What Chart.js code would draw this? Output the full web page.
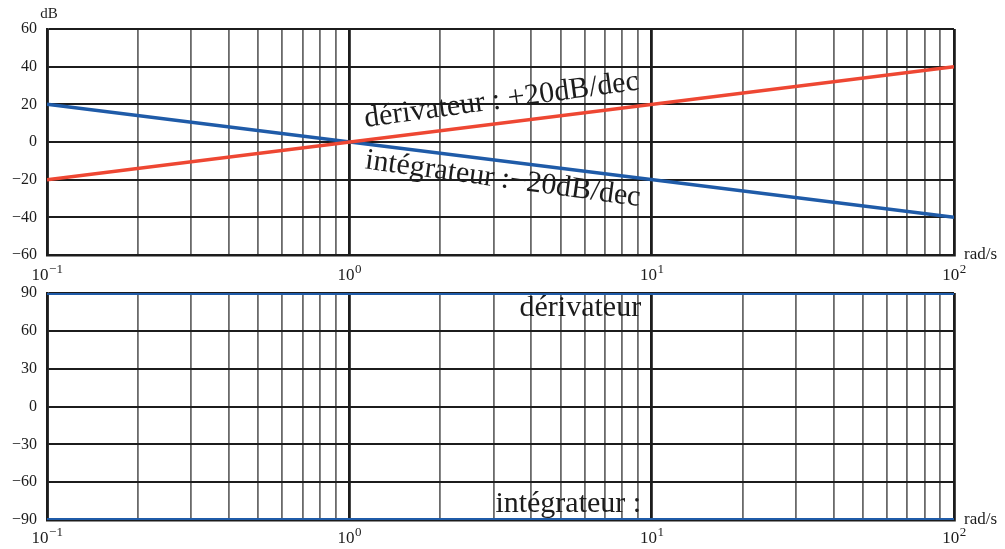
<!DOCTYPE html>
<html>
<head>
<meta charset="utf-8">
<script src="https://cdn.jsdelivr.net/npm/chart.js@4.4.0/dist/chart.umd.min.js"></script>
<style>
  html, body { margin: 0; padding: 0; background: #fff; }
  #wrap { position: relative; width: 1005px; height: 549px; }
  #wrap canvas { position: absolute; left: 0; }
  #gainCanvas { top: 0; width: 1005px; height: 285px; }
  #phaseCanvas { top: 285px; width: 1005px; height: 264px; }
</style>
</head>
<body>
<div id="wrap">
  <canvas id="gainCanvas" width="1005" height="285"></canvas>
  <canvas id="phaseCanvas" width="1005" height="264"></canvas>
</div>
<script>
// pulsation (rad/s) at both ends of each line
const omega = [0.1, 100];
// gain in dB
const gainDerivateur = [-20, 40];
const gainIntegrateur = [20, -40];
// phase in degrees
const phaseDerivateur = [90, 90];
const phaseIntegrateur = [-90, -90];

// axes
const decades = [0.1, 1, 10, 100];
const decadeExponents = ['−1', '0', '1', '2'];
const minorSteps = [2, 3, 4, 5, 6, 7, 8, 9];
const gainTicks = [-60, -40, -20, 0, 20, 40, 60];
const phaseTicks = [-90, -60, -30, 0, 30, 60, 90];

const RED = '#ee4733';
const BLUE = '#1f5ba8';
const INK = '#1c1c1c';
const SERIF = '"Liberation Serif", "DejaVu Serif", serif';

// vertical grid: every decade plus 2..9 inside each decade
const gridValues = [];
decades.forEach((d, i) => {
    gridValues.push(d);
    if (i < decades.length - 1) minorSteps.forEach(m => gridValues.push(+(d * m).toPrecision(6)));
});

function isDecade(v) {
    const l = Math.log10(v);
    return Math.abs(l - Math.round(l)) < 1e-9;
}

function fmt(v) {
    return v < 0 ? '−' + Math.abs(v) : String(v);
}

function toPoints(ys) {
    return omega.map((w, i) => ({x: w, y: ys[i]}));
}

// draws tick labels, units and the text annotations
const bodeLabels = {
    id: 'bodeLabels',
    afterDraw(chart, args, opts) {
        const {ctx, chartArea, scales} = chart;
        const xs = scales.x, ys = scales.y;
        ctx.save();
        ctx.fillStyle = INK;

        // y tick labels
        ctx.font = '16px ' + SERIF;
        ctx.textAlign = 'right';
        ctx.textBaseline = 'middle';
        opts.yTicks.forEach(v => ctx.fillText(fmt(v), chartArea.left - 10, ys.getPixelForValue(v)));

        // x decade labels 10^n
        ctx.textBaseline = 'alphabetic';
        ctx.textAlign = 'left';
        decades.forEach((d, i) => {
            const px = xs.getPixelForValue(d);
            ctx.font = '17px ' + SERIF;
            const wb = ctx.measureText('10').width;
            ctx.font = '13px ' + SERIF;
            const we = ctx.measureText(decadeExponents[i]).width;
            const left = px - (wb + we) / 2;
            const y = chartArea.bottom + opts.xLabelOffset;
            ctx.font = '17px ' + SERIF;
            ctx.fillText('10', left, y);
            ctx.font = '13px ' + SERIF;
            ctx.fillText(decadeExponents[i], left + wb + 0.5, y - 7);
        });

        // units
        ctx.font = '17px ' + SERIF;
        ctx.fillText('rad/s', chartArea.right + 10, chartArea.bottom + 4);
        if (opts.yUnit) {
            ctx.textAlign = 'center';
            ctx.font = '15px ' + SERIF;
            ctx.fillText(opts.yUnit, chartArea.left + 2, chartArea.top - 11);
        }

        // annotations
        ctx.font = '30px ' + SERIF;
        opts.notes.forEach(n => {
            ctx.save();
            ctx.translate(xs.getPixelForValue(n.x), ys.getPixelForValue(n.y));
            ctx.rotate(n.angle * Math.PI / 180);
            ctx.textAlign = n.align;
            ctx.fillText(n.text, 0, 0);
            ctx.restore();
        });
        ctx.restore();
    }
};

function makeScales(yMin, yMax, yTicks) {
    return {
        x: {
            type: 'logarithmic',
            min: decades[0],
            max: decades[decades.length - 1],
            afterBuildTicks: s => { s.ticks = gridValues.map(v => ({value: v})); },
            ticks: {display: false},
            grid: {
                drawTicks: false,
                color: c => isDecade(c.tick.value) ? INK : '#6a6a6a',
                lineWidth: c => isDecade(c.tick.value) ? 2.8 : 1.8
            },
            border: {color: INK, width: 2.5}
        },
        y: {
            min: yMin,
            max: yMax,
            afterBuildTicks: s => { s.ticks = yTicks.map(v => ({value: v})); },
            ticks: {display: false},
            grid: {drawTicks: false, color: INK, lineWidth: 2},
            border: {color: INK, width: 2.5}
        }
    };
}

const commonOptions = {
    responsive: false,
    animation: false,
    events: [],
    plugins: {legend: {display: false}, tooltip: {enabled: false}}
};

new Chart(document.getElementById('gainCanvas'), {
    type: 'line',
    data: {
        datasets: [
            {data: toPoints(gainDerivateur), borderColor: RED, borderWidth: 3.5, pointRadius: 0},
            {data: toPoints(gainIntegrateur), borderColor: BLUE, borderWidth: 3.5, pointRadius: 0}
        ]
    },
    options: {
        ...commonOptions,
        layout: {padding: {left: 47, right: 51, top: 29, bottom: 30}},
        scales: makeScales(-60, 60, gainTicks),
        plugins: {
            ...commonOptions.plugins,
            bodeLabels: {
                yTicks: gainTicks,
                yUnit: 'dB',
                xLabelOffset: 25,
                notes: [
                    {text: 'dérivateur : +20dB/dec', x: 1.13, y: 8, angle: -7.8, align: 'left'},
                    {text: 'intégrateur :−20dB/dec', x: 1.12, y: -14, angle: 7.8, align: 'left'}
                ]
            }
        }
    },
    plugins: [bodeLabels]
});

new Chart(document.getElementById('phaseCanvas'), {
    type: 'line',
    data: {
        datasets: [
            {data: toPoints(phaseDerivateur), borderColor: BLUE, borderWidth: 4, pointRadius: 0},
            {data: toPoints(phaseIntegrateur), borderColor: BLUE, borderWidth: 4, pointRadius: 0}
        ]
    },
    options: {
        ...commonOptions,
        layout: {padding: {left: 47, right: 51, top: 8, bottom: 29}},
        scales: makeScales(-90, 90, phaseTicks),
        plugins: {
            ...commonOptions.plugins,
            bodeLabels: {
                yTicks: phaseTicks,
                yUnit: null,
                xLabelOffset: 23,
                notes: [
                    {text: 'dérivateur', x: 9.23, y: 72, angle: 0, align: 'right'},
                    {text: 'intégrateur :', x: 9.23, y: -84, angle: 0, align: 'right'}
                ]
            }
        }
    },
    plugins: [bodeLabels]
});
</script>
</body>
</html>
